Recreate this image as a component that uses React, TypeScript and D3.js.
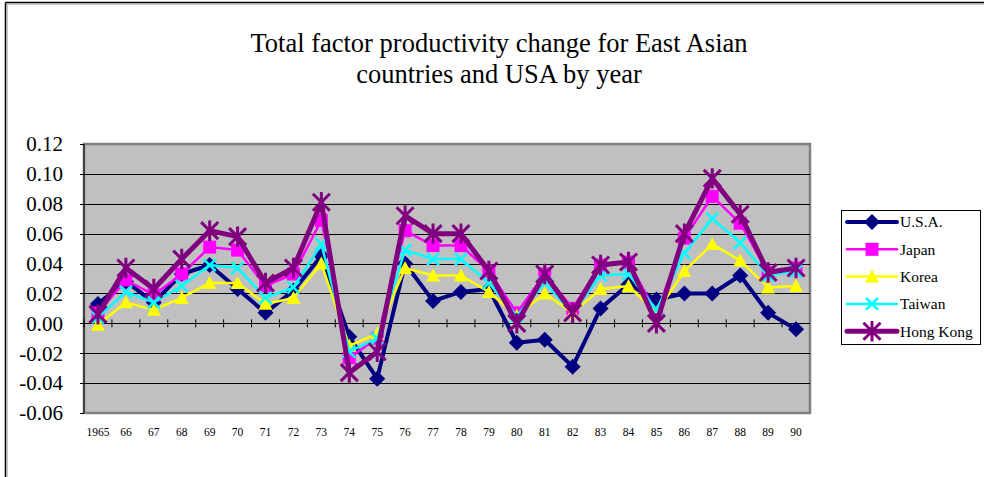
import * as d3 from 'd3';
import React from 'react';

const years = ['1965', '66', '67', '68', '69', '70', '71', '72', '73', '74', '75', '76', '77',
  '78', '79', '80', '81', '82', '83', '84', '85', '86', '87', '88', '89', '90'];

const usa = [0.013, 0.028, 0.014, 0.033, 0.039, 0.023, 0.007, 0.022, 0.045, -0.009, -0.037, 0.040, 0.015,
  0.021, 0.023, -0.013, -0.011, -0.029, 0.010, 0.026, 0.016, 0.020, 0.020, 0.032, 0.007, -0.004];
const japan = [0.007, 0.029, 0.019, 0.033, 0.051, 0.049, 0.025, 0.033, 0.069, -0.023, -0.010, 0.062, 0.052,
  0.052, 0.035, 0.007, 0.033, 0.010, 0.039, 0.041, 0.007, 0.057, 0.085, 0.067, 0.034, 0.037];
const korea = [-0.001, 0.014, 0.009, 0.017, 0.027, 0.027, 0.013, 0.017, 0.040, -0.015, -0.007, 0.037, 0.032,
  0.032, 0.021, 0.005, 0.020, 0.007, 0.023, 0.025, 0.007, 0.035, 0.053, 0.042, 0.024, 0.025];
const taiwan = [0.004, 0.021, 0.014, 0.025, 0.039, 0.037, 0.017, 0.024, 0.053, -0.019, -0.010, 0.049, 0.043,
  0.043, 0.027, 0.005, 0.027, 0.007, 0.032, 0.033, 0.009, 0.047, 0.070, 0.054, 0.032, 0.035];
const hongKong = [0.006, 0.037, 0.023, 0.043, 0.062, 0.058, 0.027, 0.037, 0.081, -0.033, -0.019, 0.072, 0.060,
  0.060, 0.035, 0.000, 0.033, 0.007, 0.039, 0.041, 0.000, 0.060, 0.097, 0.073, 0.034, 0.037];

const yTicks = [0.12, 0.10, 0.08, 0.06, 0.04, 0.02, 0.0, -0.02, -0.04, -0.06];

const seriesNames = ['U.S.A.', 'Japan', 'Korea', 'Taiwan', 'Hong Kong'];

type Marker = 'diamond' | 'square' | 'triangle' | 'x' | 'star';

const series = [
  { name: seriesNames[0], values: usa, color: '#000080', width: 4, marker: 'diamond' as Marker },
  { name: seriesNames[1], values: japan, color: '#FF00FF', width: 2.5, marker: 'square' as Marker },
  { name: seriesNames[2], values: korea, color: '#FFFF00', width: 2.5, marker: 'triangle' as Marker },
  { name: seriesNames[3], values: taiwan, color: '#00FFFF', width: 2.5, marker: 'x' as Marker },
  { name: seriesNames[4], values: hongKong, color: '#800080', width: 5, marker: 'star' as Marker },
];

const W = 984, H = 477;
const plot = { left: 84, right: 810, top: 144, bottom: 413 };
const serif = { fontFamily: "'Liberation Serif', 'Times New Roman', Times, serif" };

// marker shapes, Excel style
function markerPath(type: Marker, s: number) {
  const p = d3.path();
  if (type === 'diamond') {
    p.moveTo(0, -s); p.lineTo(s, 0); p.lineTo(0, s); p.lineTo(-s, 0); p.closePath();
  } else if (type === 'square') {
    p.rect(-s, -s, 2 * s, 2 * s);
  } else if (type === 'triangle') {
    p.moveTo(0, -s); p.lineTo(s, s * 0.85); p.lineTo(-s, s * 0.85); p.closePath();
  } else if (type === 'x') {
    p.moveTo(-s, -s); p.lineTo(s, s); p.moveTo(s, -s); p.lineTo(-s, s);
  } else {
    p.moveTo(-s, -s); p.lineTo(s, s); p.moveTo(s, -s); p.lineTo(-s, s);
    p.moveTo(0, -s * 1.2); p.lineTo(0, s * 1.2);
  }
  return p.toString();
}

const markerSize: Record<Marker, number> = { diamond: 8, square: 6.5, triangle: 7, x: 6, star: 8.5 };

function MarkerShape({ type, color, x, y }: { type: Marker; color: string; x: number; y: number }) {
  const s = markerSize[type];
  const open = type === 'x' || type === 'star';
  return (
    <path
      d={markerPath(type, s)}
      transform={`translate(${x},${y})`}
      fill={open ? 'none' : color}
      stroke={color}
      strokeWidth={open ? (type === 'star' ? 3 : 2.5) : 0}
    />
  );
}

const App = () => {
  const x = d3.scaleBand().domain(years).range([plot.left, plot.right]);
  const y = d3.scaleLinear().domain([-0.06, 0.12]).range([plot.bottom, plot.top]);
  const cx = (d: string) => (x(d) ?? 0) + x.bandwidth() / 2;

  const line = d3.line<number>()
    .x((_, i) => cx(years[i]))
    .y(d => y(d));

  const legendX = 841, legendY = 210, legendW = 139, legendH = 134;

  return (
    <svg width={W} height={H} style={{ position: 'fixed', left: 0, top: 0, background: '#fff' }}>
      {/* outer chart frame */}
      <line x1={5.5} y1={2.5} x2={W} y2={2.5} stroke="#000" strokeWidth={1.5} />
      <line x1={7} y1={4} x2={W} y2={4} stroke="#999" strokeWidth={1} />
      <line x1={5.5} y1={2.5} x2={5.5} y2={H} stroke="#000" strokeWidth={1.5} />
      <line x1={7} y1={4} x2={7} y2={H} stroke="#999" strokeWidth={1} />

      <text x={499} y={52} textAnchor="middle" style={serif} fontSize={26.5}>
        Total factor productivity change for East Asian
      </text>
      <text x={499} y={83} textAnchor="middle" style={serif} fontSize={26.5}>
        countries and USA by year
      </text>

      {/* plot area */}
      <rect x={plot.left} y={plot.top} width={plot.right - plot.left} height={plot.bottom - plot.top}
        fill="#C0C0C0" stroke="#808080" strokeWidth={2.5} />
      {yTicks.filter(t => t !== 0.12 && t !== -0.06).map(t => (
        <line key={t} x1={plot.left} x2={plot.right} y1={Math.round(y(t)) + 0.5} y2={Math.round(y(t)) + 0.5}
          stroke="#000" strokeWidth={1} />
      ))}
      {/* y axis */}
      <line x1={plot.left} x2={plot.left} y1={plot.top} y2={plot.bottom} stroke="#000" strokeWidth={1} />
      {yTicks.map(t => (
        <g key={t}>
          <line x1={plot.left - 4} x2={plot.left} y1={Math.round(y(t)) + 0.5} y2={Math.round(y(t)) + 0.5}
            stroke="#000" strokeWidth={1} />
          <text x={63} y={y(t)} dy="0.35em" textAnchor="end" style={serif} fontSize={21}>
            {t.toFixed(2)}
          </text>
        </g>
      ))}
      {/* x axis at zero with crossing ticks */}
      {years.map(yr => (
        <line key={yr} x1={x(yr) ?? 0} x2={x(yr) ?? 0}
          y1={y(0) - 4} y2={y(0) + 4} stroke="#000" strokeWidth={1} />
      ))}
      {years.map(yr => (
        <text key={yr} x={cx(yr)} y={436} textAnchor="middle" style={serif} fontSize={11.5}>{yr}</text>
      ))}

      {/* series */}
      {series.map(s => (
        <g key={s.name}>
          <path d={line(s.values) ?? ''} fill="none" stroke={s.color} strokeWidth={s.width}
            strokeLinejoin="round" strokeLinecap="round" />
          {s.values.map((v, i) => (
            <MarkerShape key={i} type={s.marker} color={s.color} x={cx(years[i])} y={y(v)} />
          ))}
        </g>
      ))}

      {/* legend */}
      <rect x={legendX + 0.5} y={legendY + 0.5} width={legendW} height={legendH} fill="#fff" stroke="#000" strokeWidth={1} />
      {series.map((s, i) => {
        const ly = 222 + i * 27.3;
        return (
          <g key={s.name}>
            <line x1={847} x2={897} y1={ly} y2={ly} stroke={s.color} strokeWidth={s.width}
              strokeLinecap="round" />
            <MarkerShape type={s.marker} color={s.color} x={872} y={ly} />
            <text x={900} y={ly} dy="0.35em" style={serif} fontSize={15.5}>{s.name}</text>
          </g>
        );
      })}
    </svg>
  );
};

export default App;
